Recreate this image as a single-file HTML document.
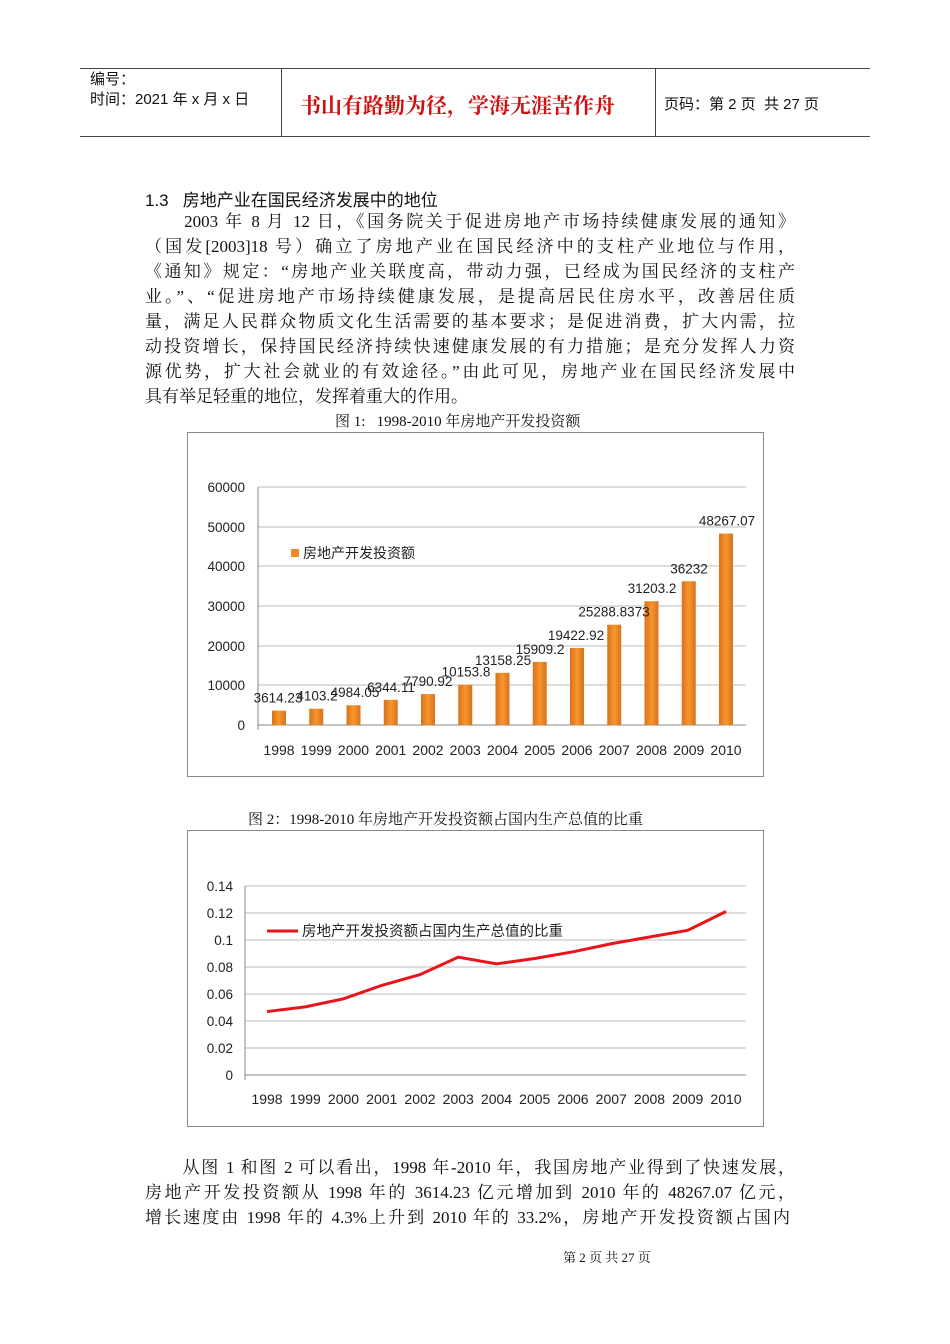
<!DOCTYPE html><html><head><meta charset="utf-8"><style>
body{margin:0;background:#fff;width:950px;height:1344px;position:relative;font-family:"Liberation Serif","Noto Serif CJK SC",serif;color:#111}
.a{position:absolute;white-space:nowrap}
.s{font-family:"Liberation Sans","Noto Sans CJK SC",sans-serif}
.p{font-size:17px;line-height:25px}
.p div{width:650px;text-align:justify;text-align-last:justify;height:25px}
.p div.l{text-align-last:left}
</style></head><body>
<div class="a" style="left:80px;top:68px;width:790px;height:67px;border-top:1px solid #444;border-bottom:1px solid #444"></div>
<div class="a" style="left:281px;top:68px;width:1px;height:68px;background:#444"></div>
<div class="a" style="left:655px;top:68px;width:1px;height:68px;background:#444"></div>
<div class="a s" style="left:90px;top:70px;font-size:15px;line-height:20px">编号：<br>时间：2021 年 x 月 x 日</div>
<div class="a" style="left:300px;top:90px;font-size:21px;color:#d01010;font-weight:bold;font-family:'Noto Serif CJK SC',serif">书山有路勤为径，学海无涯苦作舟</div>
<div class="a s" style="left:664px;top:93px;font-size:15px">页码：第 2 页&nbsp; 共 27 页</div>
<div class="a s" style="left:145px;top:186px;font-size:17px">1.3&nbsp;&nbsp; 房地产业在国民经济发展中的地位</div>
<div class="a p" style="left:145px;top:209px">
<div>　　2003 年 8 月 12 日，《国务院关于促进房地产市场持续健康发展的通知》</div>
<div>（国发[2003]18 号）确立了房地产业在国民经济中的支柱产业地位与作用，</div>
<div>《通知》规定：“房地产业关联度高，带动力强，已经成为国民经济的支柱产</div>
<div>业。”、“促进房地产市场持续健康发展，是提高居民住房水平，改善居住质</div>
<div>量，满足人民群众物质文化生活需要的基本要求；是促进消费，扩大内需，拉</div>
<div>动投资增长，保持国民经济持续快速健康发展的有力措施；是充分发挥人力资</div>
<div>源优势，扩大社会就业的有效途径。”由此可见，房地产业在国民经济发展中</div>
<div class="l">具有举足轻重的地位，发挥着重大的作用。</div></div>
<div class="a" style="left:335px;top:410px;font-size:15px">图 1:&nbsp;&nbsp; 1998-2010 年房地产开发投资额</div>
<svg class="a" style="left:0;top:0" width="950" height="1344" font-family="Liberation Sans, Noto Sans CJK SC, sans-serif">
<defs><linearGradient id="g" x1="0" x2="1"><stop offset="0" stop-color="#d9711c"/><stop offset=".5" stop-color="#f7962e"/><stop offset="1" stop-color="#d9711c"/></linearGradient></defs>
<rect x="187.5" y="432.5" width="576" height="344" fill="none" stroke="#888"/>
<g stroke="#bbb"><line x1="258" x2="746" y1="487" y2="487"/><line x1="258" x2="746" y1="527" y2="527"/><line x1="258" x2="746" y1="566" y2="566"/><line x1="258" x2="746" y1="606" y2="606"/><line x1="258" x2="746" y1="646" y2="646"/><line x1="258" x2="746" y1="685" y2="685"/><line x1="258" x2="746" y1="725" y2="725" stroke="#888"/><line x1="258" x2="258" y1="487" y2="730" stroke="#888"/></g>
<g font-size="13.5" fill="#222" text-anchor="end"><text x="245" y="492">60000</text><text x="245" y="532">50000</text><text x="245" y="571">40000</text><text x="245" y="611">30000</text><text x="245" y="651">20000</text><text x="245" y="690">10000</text><text x="245" y="730">0</text></g>
<g id="bars" fill="url(#g)"></g>
<g id="lab" font-size="13.5" fill="#222" text-anchor="middle"></g>
<rect x="291" y="549" width="8" height="8" fill="#f08a24"/><text x="303" y="558" font-size="14" fill="#222">房地产开发投资额</text>
<rect x="187.5" y="830.5" width="576" height="296" fill="none" stroke="#888"/>
<g stroke="#bbb" id="g2"></g>
<g font-size="13.5" fill="#222" text-anchor="end" id="t2"></g>
<polyline id="ln" fill="none" stroke="#e8131b" stroke-width="3"/>
<line x1="267" x2="298" y1="931" y2="931" stroke="#e8131b" stroke-width="3"/><text x="302" y="936" font-size="14.5" fill="#222">房地产开发投资额占国内生产总值的比重</text>
<g id="x2" font-size="14" fill="#222" text-anchor="middle"></g>
</svg>
<div class="a" style="left:248px;top:808px;font-size:15px">图 2：1998-2010 年房地产开发投资额占国内生产总值的比重</div>
<div class="a p" style="left:145px;top:1155px">
<div>　　从图 1 和图 2 可以看出，1998 年-2010 年，我国房地产业得到了快速发展，</div>
<div>房地产开发投资额从 1998 年的 3614.23 亿元增加到 2010 年的 48267.07 亿元，</div>
<div style="width:645px">增长速度由 1998 年的 4.3%上升到 2010 年的 33.2%，房地产开发投资额占国内</div></div>
<div class="a" style="left:563px;top:1247px;font-size:13px">第 2 页 共 27 页</div>
<script>
var ns="http://www.w3.org/2000/svg";function el(p,t,a,tx){var e=document.createElementNS(ns,t);for(var k in a)e.setAttribute(k,a[k]);if(tx)e.textContent=tx;document.getElementById(p).appendChild(e);}
var v=[3614.23,4103.2,4984.05,6344.11,7790.92,10153.8,13158.25,15909.2,19422.92,25288.8373,31203.2,36232,48267.07];
var lx=[278,317,355,391,428,466,503,540,576,614,652,689,727];
for(var i=0;i<13;i++){var x=279+i*37.25,h=v[i]/60000*238;el("bars","rect",{x:x-7,y:725-h,width:14,height:h});
el("lab","text",{x:lx[i],y:725-h-8},String(v[i]));el("lab","text",{x:x,y:755,"font-size":14},String(1998+i));}
for(var j=0;j<8;j++){var y=886+j*27;el("g2","line",{x1:245,x2:746,y1:y,y2:y,stroke:j==7?"#888":"#bbb"});el("t2","text",{x:233,y:y+5},["0.14","0.12","0.1","0.08","0.06","0.04","0.02","0"][j]);}
el("g2","line",{x1:245,x2:245,y1:886,y2:1080,stroke:"#888"});
var w=[.0465,.050,.056,.066,.074,.087,.082,.086,.091,.097,.102,.107,.121],pts=[];
for(var i=0;i<13;i++){var x=267+i*38.25;pts.push(x+","+(1074-w[i]/.14*188));el("x2","text",{x:x,y:1104},String(1998+i));}
document.getElementById("ln").setAttribute("points",pts.join(" "));
</script>
</body></html>
